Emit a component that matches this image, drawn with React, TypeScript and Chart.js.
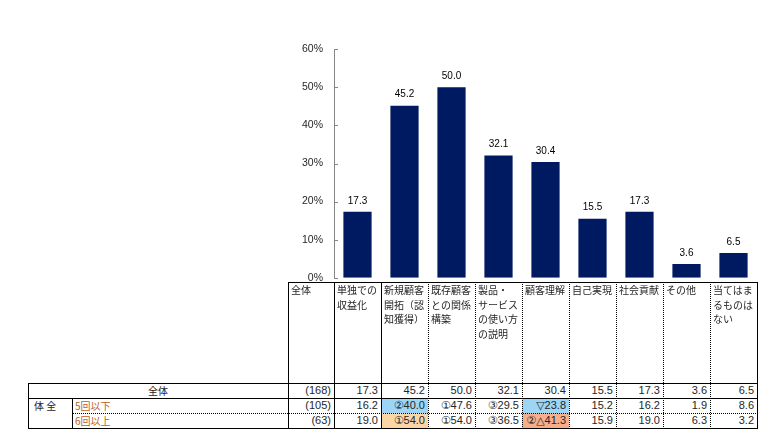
import React, { useEffect, useRef } from "react";
import { Chart, registerables } from "chart.js";

Chart.register(...registerables);

const categories: string[][] = [
  ["単独での", "収益化"],
  ["新規顧客", "開拓（認", "知獲得）"],
  ["既存顧客", "との関係", "構築"],
  ["製品・", "サービス", "の使い方", "の説明"],
  ["顧客理解"],
  ["自己実現"],
  ["社会貢献"],
  ["その他"],
  ["当てはま", "るものは", "ない"],
];
const totalValues = [17.3, 45.2, 50.0, 32.1, 30.4, 15.5, 17.3, 3.6, 6.5];
const lowValues = [16.2, 40.0, 47.6, 29.5, 23.8, 15.2, 16.2, 1.9, 8.6];
const lowMarks = ["", "②", "①", "③", "▽", "", "", "", ""];
const lowHighlight = ["", "blue", "", "", "blue", "", "", "", ""];
const highValues = [19.0, 54.0, 54.0, 36.5, 41.3, 15.9, 19.0, 6.3, 3.2];
const highMarks = ["", "①", "①", "③", "②△", "", "", "", ""];
const highHighlight = ["", "orange", "", "", "salmon", "", "", "", ""];
const rowLabels = ["全体", "5回以下", "6回以上"];
const sampleSizes = [168, 105, 63];
const yTicks = [0, 10, 20, 30, 40, 50, 60];

const HL: Record<string, string> = {
  blue: "#9dd5f7",
  orange: "#fcd5a5",
  salmon: "#f6ae8c",
};

const BAR = "#001a62";
const NUM_FONT = '"Liberation Sans", Arial, "DejaVu Sans", "Noto Sans CJK JP", sans-serif';
const JP_FONT = '"Noto Sans CJK JP", sans-serif';
const TXT = "#262626";

// layout
const COL0 = 334;
const COLW = 47;
const N = categories.length;
const RIGHT = COL0 + COLW * N;
const HEAD_TOP = 282;
const ROW_TOP = [383, 398, 413];
const ROW_H = 15;
const BOTTOM = 428;

const labelPlugin = {
  id: "labelsAndTicks",
  afterDatasetsDraw(chart: any) {
    const ctx = chart.ctx;
    const yScale = chart.scales.y;
    const left = chart.chartArea.left;
    ctx.save();
    ctx.strokeStyle = "#868686";
    ctx.lineWidth = 1;
    for (const v of yTicks) {
      const y = Math.round(yScale.getPixelForValue(v)) + 0.5;
      ctx.beginPath();
      ctx.moveTo(left, y);
      ctx.lineTo(left + 4, y);
      ctx.stroke();
    }
    const meta = chart.getDatasetMeta(0);
    ctx.fillStyle = "#000";
    ctx.font = "10px " + NUM_FONT;
    ctx.textAlign = "center";
    ctx.textBaseline = "middle";
    meta.data.forEach((bar: any, i: number) => {
      const v = chart.data.datasets[0].data[i] as number;
      ctx.fillText(v.toFixed(1), bar.x, bar.y - 11);
    });
    ctx.restore();
  },
};

function HLine({ x1, x2, y, dotted }: { x1: number; x2: number; y: number; dotted?: boolean }) {
  return (
    <div
      style={{
        position: "absolute",
        left: x1,
        top: y,
        width: x2 - x1 + 1,
        height: 0,
        borderTop: `1px ${dotted ? "dotted" : "solid"} #000`,
      }}
    />
  );
}
function VLine({ y1, y2, x, dotted }: { y1: number; y2: number; x: number; dotted?: boolean }) {
  return (
    <div
      style={{
        position: "absolute",
        left: x,
        top: y1,
        width: 0,
        height: y2 - y1 + 1,
        borderLeft: `1px ${dotted ? "dotted" : "solid"} #000`,
      }}
    />
  );
}

function Cell({
  x,
  y,
  w,
  text,
  bg,
  align = "right",
  color = TXT,
  font = NUM_FONT,
  size = 11,
}: {
  x: number;
  y: number;
  w: number;
  text: string;
  bg?: string;
  align?: "right" | "left" | "center";
  color?: string;
  font?: string;
  size?: number;
}) {
  return (
    <div
      style={{
        position: "absolute",
        left: x,
        top: y,
        width: w,
        height: ROW_H,
        background: bg || "transparent",
        font: `${size}px ${font}`,
        lineHeight: ROW_H + "px",
        textAlign: align,
        color,
        boxSizing: "border-box",
        paddingRight: align === "right" ? 3 : 0,
        paddingLeft: align === "left" ? 3 : 0,
        whiteSpace: "nowrap",
      }}
    >
      {text}
    </div>
  );
}

export default function App() {
  const ref = useRef<HTMLCanvasElement>(null);
  useEffect(() => {
    if (!ref.current) return;
    const chart = new Chart(ref.current, {
      type: "bar",
      data: {
        labels: categories.map((c) => c.join("")),
        datasets: [
          {
            data: totalValues,
            backgroundColor: BAR,
            barPercentage: 0.6,
            categoryPercentage: 1,
          },
        ],
      },
      options: {
        responsive: false,
        animation: false,
        devicePixelRatio: 1,
        layout: { padding: { left: 0, right: 8, top: 10, bottom: 6 } },
        plugins: { legend: { display: false }, tooltip: { enabled: false } },
        scales: {
          x: { display: false },
          y: {
            min: 0,
            max: 60,
            afterFit: (s: any) => {
              s.width = 54;
            },
            afterBuildTicks: (s: any) => {
              s.ticks = yTicks.map((v) => ({ value: v }));
            },
            grid: { display: false, drawTicks: false },
            border: { display: true, color: "#868686", width: 1 },
            ticks: {
              padding: 11,
              color: TXT,
              font: { family: NUM_FONT, size: 10.5 },
              callback: (v: any) => v + "%",
            },
          },
        },
      },
      plugins: [labelPlugin],
    });
    return () => chart.destroy();
  }, []);

  const edges = Array.from({ length: N + 1 }, (_, i) => COL0 + COLW * i);

  return (
    <div style={{ position: "absolute", left: 0, top: 0, width: 773, height: 445, background: "#fff" }}>
      <div style={{ position: "absolute", left: 280, top: 32, width: 485, height: 263 }}>
        <canvas ref={ref} width={485} height={263} style={{ display: "block" }} />
      </div>

      {/* header texts */}
      <div
        style={{
          position: "absolute",
          left: 291,
          top: HEAD_TOP + 1,
          font: `10px ${JP_FONT}`,
          lineHeight: "14.7px",
          color: TXT,
        }}
      >
        全体
      </div>
      {categories.map((lines, i) => (
        <div
          key={"h" + i}
          style={{
            position: "absolute",
            left: edges[i] + 3,
            top: HEAD_TOP + 1,
            width: COLW - 3,
            font: `10px ${JP_FONT}`,
            lineHeight: "14.7px",
            color: TXT,
            whiteSpace: "nowrap",
          }}
        >
          {lines.map((l, k) => (
            <div key={k}>{l}</div>
          ))}
        </div>
      ))}

      {/* row: 全体 */}
      <Cell x={28} y={ROW_TOP[0]} w={260} text={rowLabels[0]} align="center" font={JP_FONT} size={10} />
      <Cell x={288} y={ROW_TOP[0]} w={46} text={`(${sampleSizes[0]})`} />
      {totalValues.map((v, i) => (
        <Cell key={"t" + i} x={edges[i]} y={ROW_TOP[0]} w={COLW} text={v.toFixed(1)} />
      ))}

      {/* group label */}
      <div
        style={{
          position: "absolute",
          left: 34,
          top: ROW_TOP[1],
          height: ROW_H,
          font: `10px ${JP_FONT}`,
          lineHeight: ROW_H + "px",
          color: TXT,
          whiteSpace: "nowrap",
        }}
      >
        体 全
      </div>

      {/* row: 5回以下 */}
      <Cell x={72} y={ROW_TOP[1]} w={200} text={rowLabels[1]} align="left" font={JP_FONT} size={10} color="#c0601a" />
      <Cell x={288} y={ROW_TOP[1]} w={46} text={`(${sampleSizes[1]})`} />
      {lowValues.map((v, i) => (
        <Cell
          key={"l" + i}
          x={edges[i]}
          y={ROW_TOP[1]}
          w={COLW}
          text={lowMarks[i] + v.toFixed(1)}
          bg={lowHighlight[i] ? HL[lowHighlight[i]] : undefined}
        />
      ))}

      {/* row: 6回以上 */}
      <Cell x={72} y={ROW_TOP[2]} w={200} text={rowLabels[2]} align="left" font={JP_FONT} size={10} color="#c0601a" />
      <Cell x={288} y={ROW_TOP[2]} w={46} text={`(${sampleSizes[2]})`} />
      {highValues.map((v, i) => (
        <Cell
          key={"g" + i}
          x={edges[i]}
          y={ROW_TOP[2]}
          w={COLW}
          text={highMarks[i] + v.toFixed(1)}
          bg={highHighlight[i] ? HL[highHighlight[i]] : undefined}
        />
      ))}

      {/* lines */}
      <HLine x1={288} x2={RIGHT} y={HEAD_TOP} />
      <HLine x1={28} x2={RIGHT} y={ROW_TOP[0]} />
      <HLine x1={28} x2={RIGHT} y={ROW_TOP[1]} />
      <HLine x1={72} x2={RIGHT} y={ROW_TOP[2]} dotted />
      <HLine x1={28} x2={RIGHT} y={BOTTOM} />
      <VLine x={28} y1={ROW_TOP[0]} y2={BOTTOM} />
      <VLine x={72} y1={ROW_TOP[1]} y2={BOTTOM} />
      <VLine x={288} y1={HEAD_TOP} y2={BOTTOM} />
      {edges.map((x, i) => (
        <VLine key={"v" + i} x={x} y1={HEAD_TOP} y2={BOTTOM} dotted={i > 1 && i < N} />
      ))}
    </div>
  );
}
